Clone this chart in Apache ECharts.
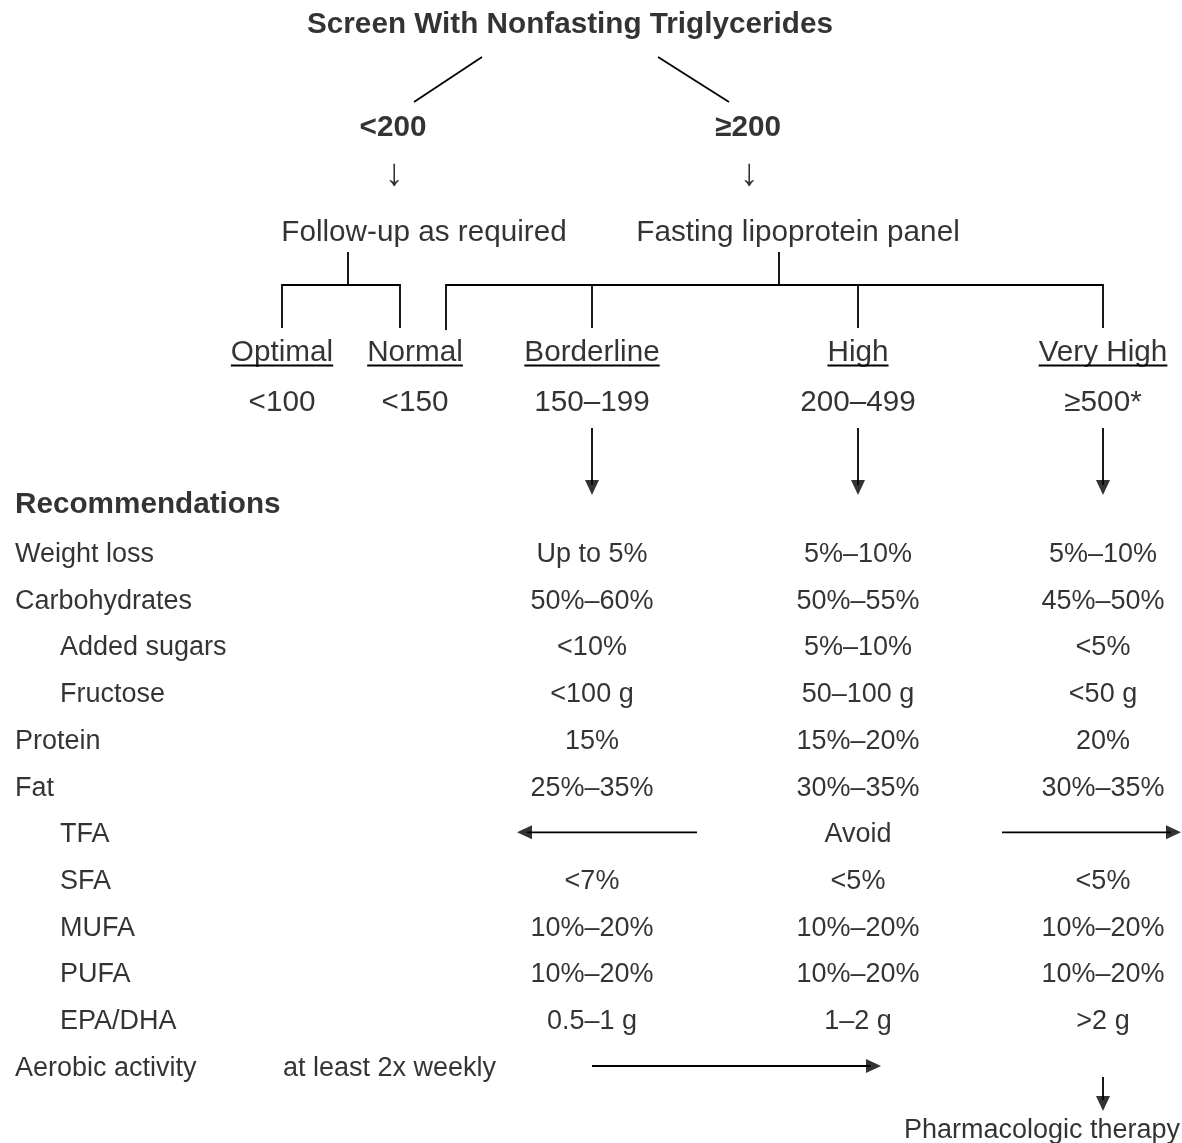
<!DOCTYPE html>
<html>
<head>
<meta charset="utf-8">
<script src="https://cdn.jsdelivr.net/npm/echarts@6/dist/echarts.min.js"></script>
<style>html,body{margin:0;padding:0;background:#fff}#c{width:1182px;height:1143px}</style>
</head>
<body>
<div id="c"></div>
<script>
// ---------- data (texts of the chart) ----------
const title = 'Screen With Nonfasting Triglycerides';
const branches = ['<200', '≥200'];
const branchActions = ['Follow-up as required', 'Fasting lipoprotein panel'];
const levels = ['Optimal', 'Normal', 'Borderline', 'High', 'Very High'];
const levelRanges = ['<100', '<150', '150–199', '200–499', '≥500*'];
const recHeader = 'Recommendations';
const recRows = ['Weight loss', 'Carbohydrates', 'Added sugars', 'Fructose', 'Protein', 'Fat',
  'TFA', 'SFA', 'MUFA', 'PUFA', 'EPA/DHA', 'Aerobic activity'];
const borderlineVals = ['Up to 5%', '50%–60%', '<10%', '<100 g', '15%', '25%–35%',
  '', '<7%', '10%–20%', '10%–20%', '0.5–1 g', ''];
const highVals = ['5%–10%', '50%–55%', '5%–10%', '50–100 g', '15%–20%', '30%–35%',
  'Avoid', '<5%', '10%–20%', '10%–20%', '1–2 g', ''];
const veryHighVals = ['5%–10%', '45%–50%', '<5%', '<50 g', '20%', '30%–35%',
  '', '<5%', '10%–20%', '10%–20%', '>2 g', ''];
const aerobicNote = 'at least 2x weekly';
const therapyNote = 'Pharmacologic therapy';

// ---------- layout (positions / styles) ----------
const W = 1182, H = 1143;
const FONT = '"Liberation Sans", Arial, sans-serif';
const FS = 27, FSTOP = 29.7, FSB = 29.7;
const DY = 2.5;
const L = {
  titleX: 570, titleY: 22,
  branchX: [393, 748], branchY: 125,
  glyphX: [394, 749], glyphY: 175,
  actionX: [424, 798], actionY: 230,
  levelX: [282, 415, 592, 858, 1103], levelY: 350, rangeY: 400, underlineDy: 13,
  colX: [592, 858, 1103],
  labelX: 15, indentX: 60,
  recHeaderY: 502,
  tableTop: 528.6, rowStep: 46.73,
  noteX: 283, therapyX: 1042, therapyY: 1128
};
const rowIndent = [0, 0, 1, 1, 0, 0, 1, 1, 1, 1, 1, 0];
const HEAD = [14, 15];
const LW = 1.8;

function textWidth(t, size, bold) {
  const cv = document.createElement('canvas').getContext('2d');
  cv.font = (bold ? 'bold ' : '') + size + 'px ' + FONT;
  return cv.measureText(t).width;
}

const chart = echarts.init(document.getElementById('c'), null, {renderer: 'canvas'});

function textSeries(name, data, opts) {
  opts = opts || {};
  return {
    type: 'scatter', name: name, xAxisIndex: opts.grid || 0, yAxisIndex: opts.grid || 0,
    symbolSize: 1, itemStyle: {color: 'rgba(0,0,0,0)'}, silent: true, animation: false,
    data: data,
    label: {
      show: true, position: 'inside', formatter: p => p.data[2],
      color: '#000', fontFamily: FONT, fontSize: opts.size || FS,
      fontWeight: opts.bold ? 'bold' : 'normal', offset: [0, opts.dy == null ? DY : opts.dy],
      align: opts.align || 'center', verticalAlign: 'middle', textBorderWidth: 0
    }
  };
}
function lineSeries(name, coordsList, grid) {
  return {
    type: 'lines', name: name, coordinateSystem: 'cartesian2d',
    xAxisIndex: grid || 0, yAxisIndex: grid || 0, polyline: true, silent: true, animation: false,
    symbol: ['none', 'none'],
    lineStyle: {color: '#000', width: LW, opacity: 1, curveness: 0},
    data: coordsList.map(c => ({coords: c}))
  };
}
// arrow heads: triangle markers centred just behind the tip
function headSeries(name, heads, grid) {
  return {
    type: 'scatter', name: name, xAxisIndex: grid || 0, yAxisIndex: grid || 0,
    symbol: 'triangle', symbolSize: HEAD, silent: true, animation: false,
    itemStyle: {color: '#000'},
    data: heads.map(h => ({value: [h[0], h[1]], symbolRotate: h[2]}))
  };
}

// flowchart (grid 0) texts
const topTexts = [[L.titleX, L.titleY, title]];
const boldTexts = branches.map((b, i) => [L.branchX[i], L.branchY, b]);
const glyphs = branches.map((b, i) => [L.glyphX[i], L.glyphY, '↓']);
const actions = branchActions.map((a, i) => [L.actionX[i], L.actionY, a]);
const levelTexts = levels.map((a, i) => [L.levelX[i], L.levelY, a]);
const rangeTexts = levelRanges.map((a, i) => [L.levelX[i], L.rangeY, a]);
const underlines = levels.map((a, i) => {
  const w = textWidth(a, FSTOP, false);
  const y = L.levelY + L.underlineDy + DY;
  return [[L.levelX[i] - w / 2, y], [L.levelX[i] + w / 2, y]];
});
const connectors = [
  [[482, 57], [414, 102]],
  [[658, 57], [729, 102]],
  [[348, 252], [348, 285]],
  [[282, 328], [282, 285], [400, 285], [400, 328]],
  [[779, 252], [779, 285]],
  [[446, 330], [446, 285], [1103, 285], [1103, 328]],
  [[592, 285], [592, 328]],
  [[858, 285], [858, 328]],
  ...L.colX.map(x => [[x, 428], [x, 485]]),
  [[1103, 1077], [1103, 1100]]
];
const topHeads = [...L.colX.map(x => [x, 495 - HEAD[1] / 2, 180]), [1103, 1111 - HEAD[1] / 2, 180]];

// table (grid 1)
const rowIdx = n => recRows.indexOf(n);
const rowLabels = recRows.map((r, i) => [rowIndent[i] ? L.indentX : L.labelX, i, r]);
const colSeries = [borderlineVals, highVals, veryHighVals].map((vals, c) =>
  textSeries('col' + c, vals.map((v, i) => [L.colX[c], i, v]).filter(d => d[2] !== ''), {grid: 1}));
const tfa = rowIdx('TFA'), aer = rowIdx('Aerobic activity');
const tableLines = [
  [[697, tfa], [527, tfa]],
  [[1002, tfa], [1171, tfa]],
  [[592, aer], [871, aer]]
];
const tableHeads = [
  [517 + HEAD[1] / 2, tfa, 90],
  [1181 - HEAD[1] / 2, tfa, -90],
  [881 - HEAD[1] / 2, aer, -90]
];

const option = {
  backgroundColor: '#fff',
  animation: false,
  grid: [
    {left: 0, top: 0, width: W, height: H},
    {left: 0, top: L.tableTop, width: W, height: L.rowStep * recRows.length}
  ],
  xAxis: [
    {type: 'value', min: 0, max: W, show: false, gridIndex: 0},
    {type: 'value', min: 0, max: W, show: false, gridIndex: 1}
  ],
  yAxis: [
    {type: 'value', min: 0, max: H, inverse: true, show: false, gridIndex: 0},
    {type: 'category', data: recRows, inverse: true, show: false, gridIndex: 1}
  ],
  series: [
    textSeries('title', topTexts, {bold: true, size: FSB}),
    textSeries('branches', boldTexts, {bold: true, size: FSB}),
    textSeries('glyphs', glyphs, {size: 38, dy: 0}),
    textSeries('actions', actions, {size: FSTOP}),
    textSeries('levels', levelTexts, {size: FSTOP}),
    textSeries('ranges', rangeTexts, {size: FSTOP}),
    textSeries('recHeader', [[L.labelX, L.recHeaderY, recHeader]], {bold: true, size: FSB, align: 'left'}),
    textSeries('therapy', [[L.therapyX, L.therapyY, therapyNote]]),
    lineSeries('underlines', underlines),
    lineSeries('connectors', connectors),
    headSeries('topHeads', topHeads),
    textSeries('rowLabels', rowLabels, {grid: 1, align: 'left'}),
    textSeries('aerobicNote', [[L.noteX, aer, aerobicNote]], {grid: 1, align: 'left'}),
    ...colSeries,
    lineSeries('tableLines', tableLines, 1),
    headSeries('tableHeads', tableHeads, 1)
  ]
};
chart.setOption(option);
</script>
</body>
</html>
